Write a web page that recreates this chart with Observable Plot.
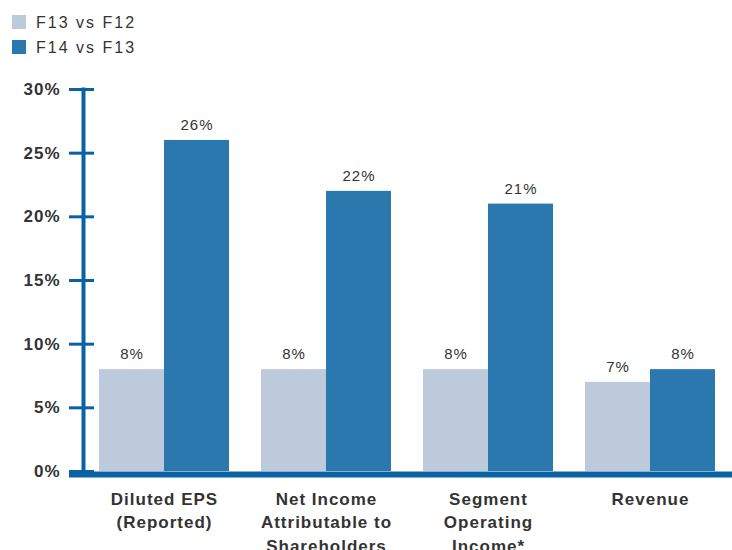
<!DOCTYPE html>
<html>
<head>
<meta charset="utf-8">
<script src="https://cdn.jsdelivr.net/npm/d3@7"></script>
<script src="https://cdn.jsdelivr.net/npm/@observablehq/plot@0.6"></script>
<style>
  html, body { margin: 0; padding: 0; background: #fff; }
  body { width: 732px; height: 550px; overflow: hidden; position: relative; font-family: "Liberation Sans", Arial, sans-serif; }
  #legend { position: absolute; left: 0; top: 0; }
  .item { position: absolute; left: 12px; height: 14px; display: flex; align-items: center; white-space: nowrap; }
  .sw { width: 14px; height: 14px; margin-right: 10px; }
  .lab { font-size: 16px; letter-spacing: 2px; color: #333; line-height: 14px; position: relative; top: 1px; }
  #chart { position: absolute; left: 0; top: 62px; }
  #chart svg text { letter-spacing: 1px; }
</style>
</head>
<body>
<div id="legend"></div>
<div id="chart"></div>
<script>
const categories = ["Diluted EPS\n(Reported)", "Net Income\nAttributable to\nShareholders", "Segment\nOperating\nIncome*", "Revenue"];
const series = ["F13 vs F12", "F14 vs F13"];
const f13vsF12 = [8, 8, 8, 7];
const f14vsF13 = [26, 22, 21, 8];
const yTicks = [0, 5, 10, 15, 20, 25, 30];
const colors = ["#bdcadb", "#2a78ae"];
const axisColor = "#0a62a3";
const textColor = "#333";

const W = 732, ML = 82;
const facetWidth = (W - ML) / categories.length;

const data = [];
categories.forEach((c, i) => {
  data.push({category: c, series: series[0], value: f13vsF12[i]});
  data.push({category: c, series: series[1], value: f14vsF13[i]});
});

// legend
const legend = document.getElementById("legend");
series.forEach((s, i) => {
  const item = document.createElement("div");
  item.className = "item";
  item.style.top = (15 + i * 25) + "px";
  item.innerHTML = `<div class="sw" style="background:${colors[i]}"></div><div class="lab"></div>`;
  item.querySelector(".lab").textContent = s;
  legend.appendChild(item);
});

const chart = Plot.plot({
  width: W,
  height: 488,
  marginLeft: ML,
  marginRight: 0,
  marginTop: 27,
  marginBottom: 79,
  style: {fontFamily: "Liberation Sans, Arial, sans-serif", fontSize: "15px", color: textColor, background: "white"},
  fx: {domain: categories, paddingInner: 0, paddingOuter: 0, label: null, axis: null},
  x: {domain: series, paddingInner: 0, paddingOuter: 0.23, axis: null},
  y: {domain: [0, 30], axis: null},
  color: {domain: series, range: colors},
  marks: [
    Plot.barY(data, {fx: "category", x: "series", y: "value", fill: "series"}),
    Plot.text(data, {fx: "category", x: "series", y: "value", text: d => d.value + "%", lineAnchor: "middle", dy: -15, fill: textColor, fontSize: 15}),
    Plot.axisFx({anchor: "bottom", tickSize: 0, tickPadding: 17, lineHeight: 1.37, fontSize: 17, fontWeight: "bold", fill: textColor, label: null}),
    Plot.frame({anchor: "left", stroke: axisColor, strokeWidth: 4, facetAnchor: "left"}),
    Plot.axisY({ticks: yTicks, tickFormat: d => d + "%", tickSize: 14, tickPadding: 9, stroke: axisColor, strokeWidth: 3, fill: textColor, fontSize: 17, fontWeight: "bold", label: null}),
    Plot.axisY({ticks: yTicks, tickFormat: () => "", tickSize: -11, stroke: axisColor, strokeWidth: 3, label: null}),
    Plot.ruleY([0], {stroke: axisColor, strokeWidth: 6, dy: 3, insetLeft: -14, insetRight: -facetWidth * (categories.length - 1), facetAnchor: "left"})
  ]
});
document.getElementById("chart").appendChild(chart);
</script>
</body>
</html>
